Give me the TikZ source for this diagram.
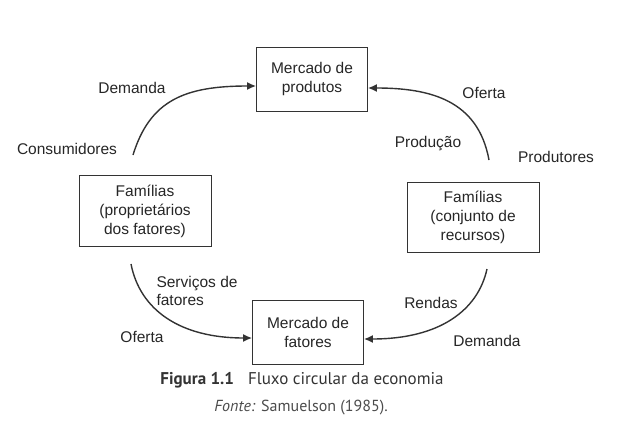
\documentclass[tikz,border=0pt]{standalone}
\usepackage{fontspec}
\setmainfont{Liberation Sans}
\newfontfamily\legenda{PT Sans}
\usetikzlibrary{arrows.meta}

\begin{document}
\begin{tikzpicture}[x=1pt,y=-1pt,
		caixa/.style={draw=black!80,line width=0.9pt,align=center,text=black!85,inner sep=0pt,
			font=\fontsize{15.5}{19}\selectfont},
		rotulo/.style={text=black!85,font=\fontsize{15.5}{18}\selectfont},
		fluxo/.style={draw=black!80,line width=1.4pt,-{Latex[length=9pt,width=8pt]}}]
		\useasboundingbox (0,0) rectangle (623,447);

		% mercados e familias
		\node[caixa,minimum width=111pt,minimum height=64pt] (mprod) at (312,79) {Mercado de\\produtos};
		\node[caixa,minimum width=132pt,minimum height=71pt] (fprop) at (145,211) {Famílias\\(proprietários\\dos fatores)};
		\node[caixa,minimum width=132pt,minimum height=70pt] (frec) at (473,217) {Famílias\\(conjunto de\\recursos)};
		\node[caixa,minimum width=111pt,minimum height=64pt] (mfat) at (308,332) {Mercado de\\fatores};

		% pontas dos fluxos
		\coordinate (c1) at (133,155);
		\coordinate (c2) at (489,160);
		\coordinate (c3) at (131,264);
		\coordinate (c4) at (487,269);

		\draw[fluxo] (c1) .. controls (150,100) and (185,86) .. (mprod.west |- 0,86);
		\draw[fluxo] (c2) .. controls (478,100) and (430,88) .. (mprod.east |- 0,88);
		\draw[fluxo] (c3) .. controls (140,310) and (180,338) .. (mfat.west |- 0,338);
		\draw[fluxo] (c4) .. controls (478,310) and (440,339) .. (mfat.east |- 0,339);

		% rotulos
		\node[rotulo] (dem1) at (132,88) {Demanda};
		\node[rotulo] (cons) at (67,149) {Consumidores};
		\node[rotulo] (ofe1) at (484,93) {Oferta};
		\node[rotulo] (prod) at (428,144) {Produção};
		\node[rotulo] (prodt) at (556,157) {Produtores};
		\node[rotulo,align=left,anchor=west] (serv) at (153,291) {Serviços de\\fatores};
		\node[rotulo] (ofe2) at (142,337) {Oferta};
		\node[rotulo] (rend) at (431,303) {Rendas};
		\node[rotulo] (dem2) at (487,341) {Demanda};

		% legenda
		\node[text=black!80,font=\legenda\fontsize{17}{20}\selectfont] (fig) at (302,380) {\textbf{Figura 1.1}\hspace{14pt}Fluxo circular da economia};
		\node[text=black!70,font=\legenda\fontsize{16}{19}\selectfont] (fonte) at (301,408) {\textit{Fonte:} Samuelson (1985).};
	\end{tikzpicture}
\end{document}
